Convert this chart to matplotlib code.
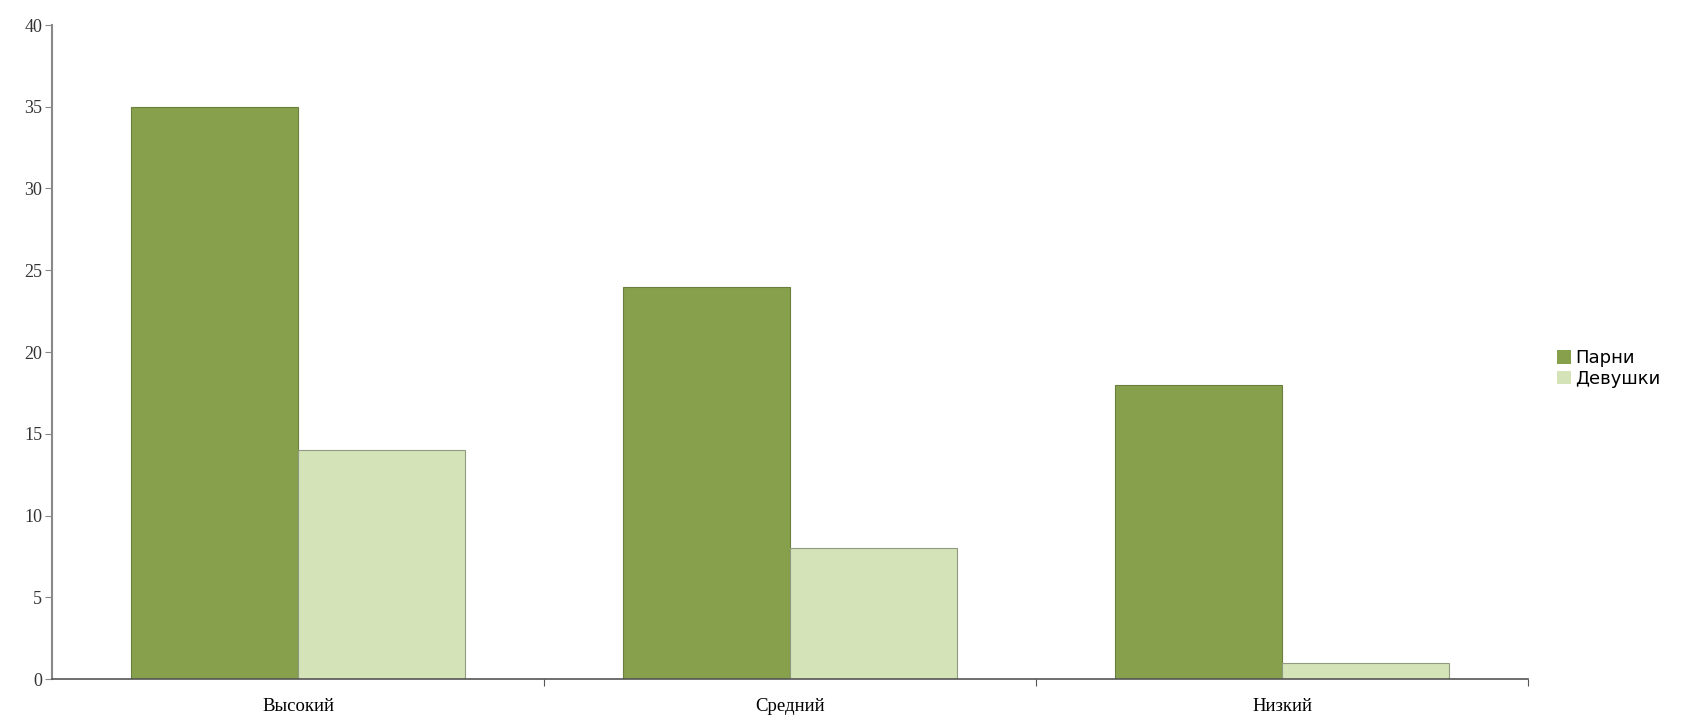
import matplotlib
matplotlib.use("Agg")
import matplotlib.pyplot as plt
import numpy as np

categories = ['Высокий', 'Средний', 'Низкий']
boys = [35, 24, 18]
girls = [14, 8, 1]
y_ticks = [0, 5, 10, 15, 20, 25, 30, 35, 40]

fig = plt.figure(figsize=(16.92, 7.25), dpi=100)
ax = fig.add_axes([52/1692, 1 - 679/725, (1528 - 52)/1692, (679 - 25)/725])

x = np.arange(len(categories))
w = 0.34
ax.bar(x - w/2, boys, w, color='#86a04b', edgecolor='#6b7f3c', linewidth=0.8, label='Парни')
ax.bar(x + w/2, girls, w, color='#d4e3b8', edgecolor='#8f9a80', linewidth=0.8, label='Девушки')

ax.set_xlim(-0.5, len(categories) - 0.5)
ax.set_ylim(0, 40)
ax.set_yticks(y_ticks)
ax.set_yticklabels([str(t) for t in y_ticks], family='Liberation Serif', fontsize=13, color='#333333')

# boundary ticks between groups, labels at group centres
ax.set_xticks([0.5, 1.5, 2.5])
ax.set_xticklabels([])
ax.set_xticks(x, minor=True)
ax.set_xticklabels(categories, minor=True, family='Liberation Serif', fontsize=13.5)
ax.tick_params(axis='x', which='minor', length=0, pad=14)
ax.tick_params(axis='x', which='major', length=5, color='#555555')
ax.tick_params(axis='y', length=5, color='#888888', pad=2)

for s in ['top', 'right']:
    ax.spines[s].set_visible(False)
ax.spines['left'].set_color('#888888')
ax.spines['left'].set_linewidth(1.5)
ax.spines['bottom'].set_color('#555555')
ax.spines['bottom'].set_linewidth(1.2)

leg = fig.legend(loc='upper left', bbox_to_anchor=(1548/1692, 1 - 340/725), frameon=False,
                 prop={'family': 'DejaVu Sans', 'size': 13}, handlelength=0.8, handleheight=0.8,
                 handletextpad=0.2, labelspacing=0.15, borderpad=0)
for h in leg.legend_handles:
    h.set_edgecolor('none')

plt.savefig('out.png', dpi=100)
